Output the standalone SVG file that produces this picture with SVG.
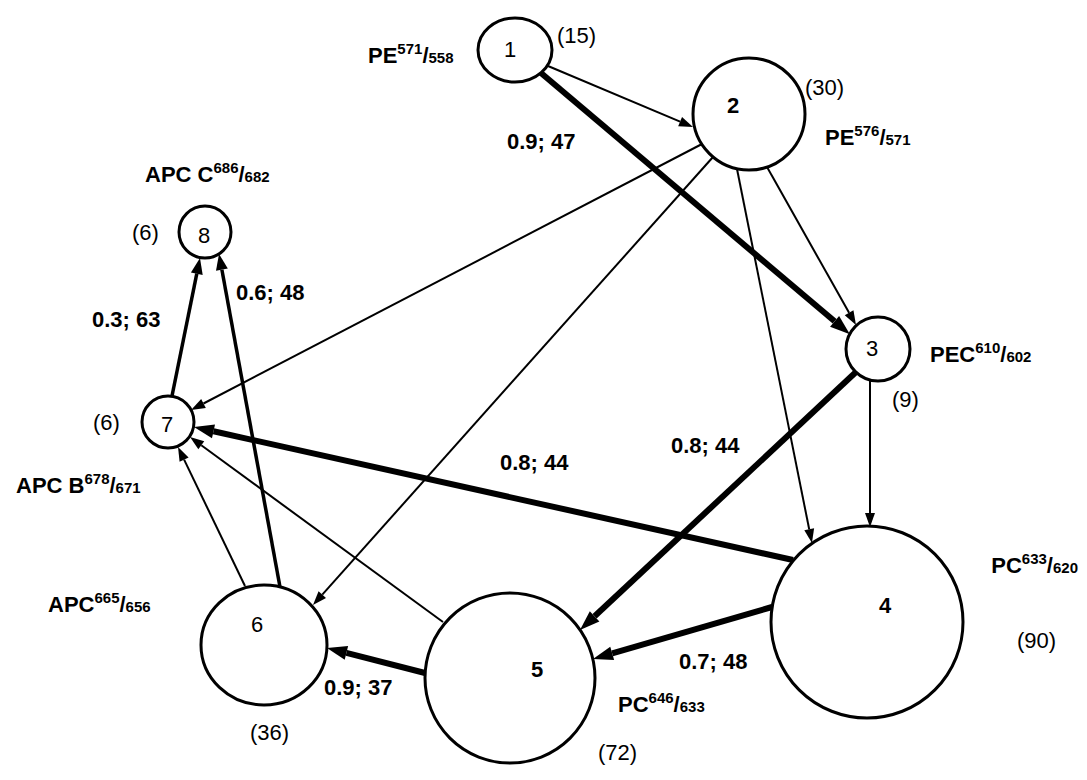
<svg xmlns="http://www.w3.org/2000/svg" width="1087" height="780" viewBox="0 0 1087 780">
<style>
text{font-family:"Liberation Sans",Arial,sans-serif;font-size:22px;fill:#000}
.b{font-weight:bold}
.s{font-size:15px}
.node{fill:#fff;stroke:#000;stroke-width:3}
.e1{stroke:#000;stroke-width:2;fill:none;marker-end:url(#a1)}
.e2{stroke:#000;stroke-width:3.5;fill:none;marker-end:url(#a2)}
.e3{stroke:#000;stroke-width:6;fill:none;marker-end:url(#a3)}
.n{text-anchor:middle}
</style>
<defs>
<marker id="a1" markerUnits="userSpaceOnUse" orient="auto" markerWidth="14" markerHeight="10" refX="0" refY="5" overflow="visible"><path d="M0,0 L14,5 L0,10 z" fill="#000"/></marker>
<marker id="a2" markerUnits="userSpaceOnUse" orient="auto" markerWidth="16" markerHeight="12" refX="0" refY="6" overflow="visible"><path d="M0,0 L16,6 L0,12 z" fill="#000"/></marker>
<marker id="a3" markerUnits="userSpaceOnUse" orient="auto" markerWidth="20" markerHeight="14" refX="0" refY="7" overflow="visible"><path d="M0,0 L20,7 L0,14 z" fill="#000"/></marker>
</defs>
<rect width="1087" height="780" fill="#fff"/>
<g id="connectors">
<line class="e1" x1="548" y1="66" x2="680.1" y2="121.6"/>
<line class="e3" x1="541" y1="73" x2="834.6" y2="321.3"/>
<line class="e1" x1="767" y1="167" x2="849.1" y2="312.8"/>
<line class="e1" x1="737" y1="169" x2="809.2" y2="529.3"/>
<line class="e1" x1="702" y1="144" x2="203.5" y2="403.5"/>
<line class="e1" x1="713" y1="157" x2="322.3" y2="594.6"/>
<line class="e1" x1="870" y1="381" x2="870" y2="513"/>
<line class="e3" x1="856" y1="372" x2="594.6" y2="616.3"/>
<line class="e3" x1="772" y1="607" x2="612.2" y2="653.4"/>
<line class="e3" x1="793" y1="560" x2="213.5" y2="431.3"/>
<line class="e3" x1="425" y1="673" x2="346.4" y2="652.9"/>
<line class="e1" x1="443" y1="622" x2="201.3" y2="445.3"/>
<line class="e1" x1="245" y1="586" x2="184.1" y2="459.6"/>
<line class="e2" x1="280" y1="587" x2="221.9" y2="269.7"/>
<line class="e2" x1="172" y1="396" x2="196.8" y2="273.7"/>
</g>
<g id="node1"><ellipse class="node" cx="515" cy="50" rx="37" ry="32"/><text class="n" x="510" y="57">1</text><text x="557" y="43">(15)</text><text class="b" x="368" y="63">PE<tspan class="s" dy="-9">571</tspan><tspan dy="9">/</tspan><tspan class="s">558</tspan></text></g>
<g id="node2"><circle class="node" cx="749" cy="114" r="56"/><text class="n b" x="733" y="113">2</text><text x="805" y="95">(30)</text><text class="b" x="825" y="145">PE<tspan class="s" dy="-9">576</tspan><tspan dy="9">/</tspan><tspan class="s">571</tspan></text></g>
<g id="node3"><circle class="node" cx="878" cy="349" r="32"/><text class="n" x="872" y="356">3</text><text x="892" y="407">(9)</text><text class="b" x="930" y="362">PEC<tspan class="s" dy="-9">610</tspan><tspan dy="9">/</tspan><tspan class="s">602</tspan></text></g>
<g id="node4"><circle class="node" cx="867" cy="622" r="96"/><text class="n b" x="885" y="613">4</text><text x="1017" y="648">(90)</text><text class="b" x="1078" y="573" text-anchor="end">PC<tspan class="s" dy="-9">633</tspan><tspan dy="9">/</tspan><tspan class="s">620</tspan></text></g>
<g id="node5"><circle class="node" cx="510" cy="678" r="85"/><text class="n b" x="537" y="677">5</text><text x="598" y="760">(72)</text><text class="b" x="618" y="712">PC<tspan class="s" dy="-9">646</tspan><tspan dy="9">/</tspan><tspan class="s">633</tspan></text></g>
<g id="node6"><ellipse class="node" cx="264" cy="645" rx="63" ry="60"/><text class="n" x="257" y="632">6</text><text x="250" y="740">(36)</text><text class="b" x="48" y="612">APC<tspan class="s" dy="-9">665</tspan><tspan dy="9">/</tspan><tspan class="s">656</tspan></text></g>
<g id="node7"><circle class="node" cx="168" cy="422" r="26"/><text class="n" x="167" y="432">7</text><text x="93" y="430">(6)</text><text class="b" x="16" y="493">APC B<tspan class="s" dy="-9">678</tspan><tspan dy="9">/</tspan><tspan class="s">671</tspan></text></g>
<g id="node8"><circle class="node" cx="205" cy="232" r="26"/><text class="n" x="204" y="243">8</text><text x="132" y="240">(6)</text><text class="b" x="145" y="182">APC C<tspan class="s" dy="-9">686</tspan><tspan dy="9">/</tspan><tspan class="s">682</tspan></text></g>
<g id="edge-labels">
<text class="b" x="507" y="149">0.9; 47</text>
<text class="b" x="500" y="470">0.8; 44</text>
<text class="b" x="671" y="453">0.8; 44</text>
<text class="b" x="679" y="669">0.7; 48</text>
<text class="b" x="324" y="695">0.9; 37</text>
<text class="b" x="236" y="300">0.6; 48</text>
<text class="b" x="92" y="327">0.3; 63</text>
</g>
</svg>
